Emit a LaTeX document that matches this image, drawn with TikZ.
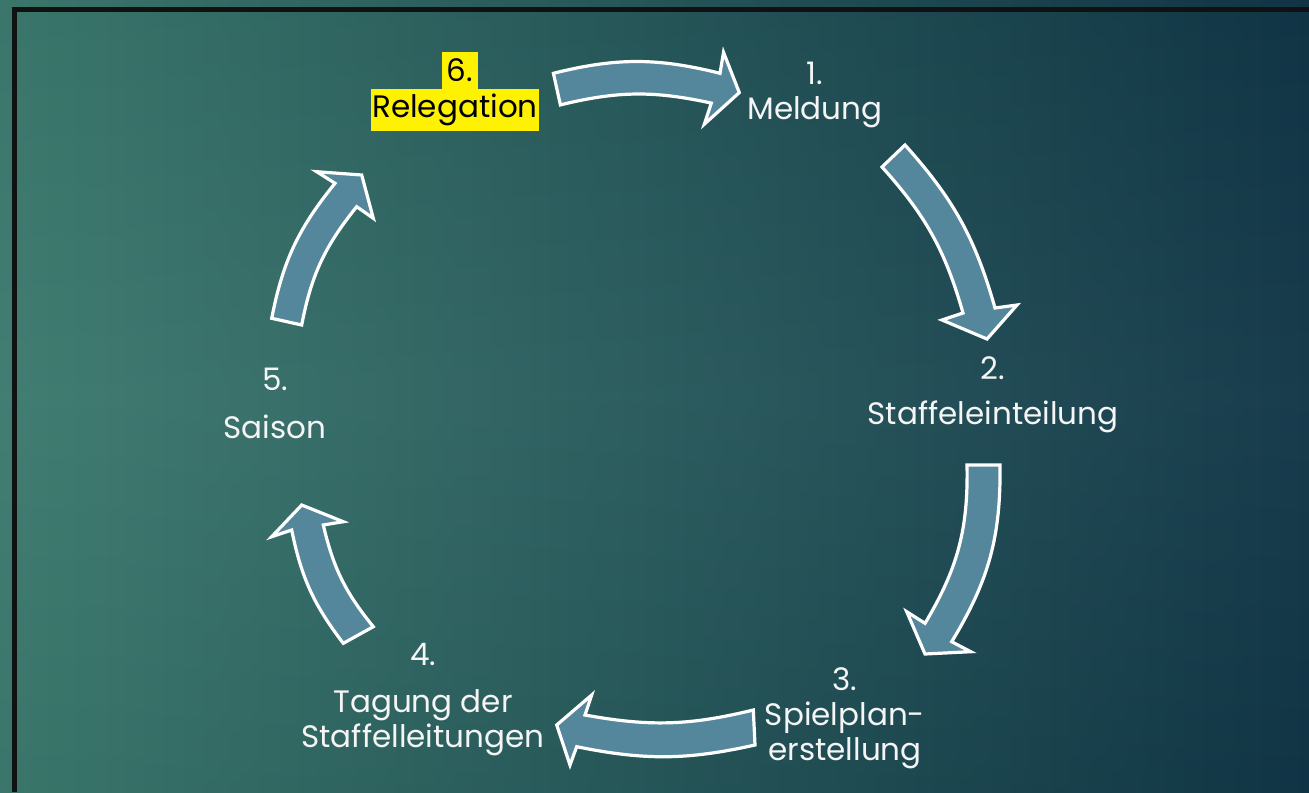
\documentclass[tikz,border=0pt]{standalone}
\usepackage{fontspec}
\setmainfont{Poppins}

\definecolor{bgl}{RGB}{60,122,110}
\definecolor{bgm}{RGB}{38,90,93}
\definecolor{bgr}{RGB}{17,54,71}
\definecolor{arrowfill}{RGB}{85,135,156}
\definecolor{frame}{RGB}{17,17,17}

\tikzset{
  cyc/.style={draw=white, line width=1.6pt, fill=arrowfill},
  lbl/.style={text=white!96!black, align=center, inner sep=0pt, font=\fontsize{15.5}{17.5}\selectfont},
  hl/.style={fill=yellow, text=black, inner sep=0pt, font=\fontsize{15.5}{17.5}\selectfont}
}

\begin{document}
\begin{tikzpicture}[x=0.5pt, y=-0.5pt]
\shade[left color=bgl, middle color=bgm, right color=bgr] (0,0) rectangle (1309,792);
\shade[top color=black, bottom color=black, middle color=white, opacity=0.03] (0,0) rectangle (1309,792);
\useasboundingbox (0,0) rectangle (1309,792);
\fill[frame] (12,7) rectangle (1309,12);
\fill[frame] (12,7) rectangle (17,792);

% arrow outlines, tail -> head -> tail
\coordinate (a1_0) at (553.4,73.3);
\coordinate (a1_1) at (720,73.3);
\coordinate (a1_2) at (723.5,52.3);
\coordinate (a1_3) at (739.3,92.6);
\coordinate (a1_4) at (704.3,124.2);
\coordinate (a1_5) at (711.3,103.1);
\coordinate (a1_6) at (560.4,104.9);

\coordinate (a2_0) at (905,145);
\coordinate (a2_1) at (995,308);
\coordinate (a2_2) at (1017,305);
\coordinate (a2_3) at (987,339);
\coordinate (a2_4) at (942,320);
\coordinate (a2_5) at (963,313);
\coordinate (a2_6) at (882,167);

\coordinate (a3_0) at (1000,465);
\coordinate (a3_1) at (951.7,641.7);
\coordinate (a3_2) at (970.7,651.7);
\coordinate (a3_3) at (925,654);
\coordinate (a3_4) at (906.7,611.7);
\coordinate (a3_5) at (925,623.3);
\coordinate (a3_6) at (967,465);

\coordinate (a4_0) at (755,745);
\coordinate (a4_1) at (576.7,746.7);
\coordinate (a4_2) at (570,765);
\coordinate (a4_3) at (556.7,725);
\coordinate (a4_4) at (591.7,695);
\coordinate (a4_5) at (585,715);
\coordinate (a4_6) at (753.3,710);

\coordinate (a5_0) at (343.3,643.3);
\coordinate (a5_1) at (291.7,530);
\coordinate (a5_2) at (271.7,536.7);
\coordinate (a5_3) at (301.7,505);
\coordinate (a5_4) at (343.3,521.7);
\coordinate (a5_5) at (323.3,525);
\coordinate (a5_6) at (373.3,626.7);

\coordinate (a6_0) at (271.7,318.3);
\coordinate (a6_1) at (335,183.3);
\coordinate (a6_2) at (316.7,171.7);
\coordinate (a6_3) at (361.7,175);
\coordinate (a6_4) at (373.3,218.3);
\coordinate (a6_5) at (356.7,206.7);
\coordinate (a6_6) at (301.7,325);

\draw[cyc] (a1_0) to[bend left=14] (a1_1) -- (a1_2) -- (a1_3) -- (a1_4) -- (a1_5) to[bend right=13] (a1_6) -- cycle;
\draw[cyc] (a2_0) to[bend left=13] (a2_1) -- (a2_2) -- (a2_3) -- (a2_4) -- (a2_5) to[bend right=13] (a2_6) -- cycle;
\draw[cyc] (a3_0) to[bend left=16] (a3_1) -- (a3_2) -- (a3_3) -- (a3_4) -- (a3_5) to[bend right=16] (a3_6) -- cycle;
\draw[cyc] (a4_0) to[bend left=12] (a4_1) -- (a4_2) -- (a4_3) -- (a4_4) -- (a4_5) to[bend right=12] (a4_6) -- cycle;
\draw[cyc] (a5_0) to[bend left=13] (a5_1) -- (a5_2) -- (a5_3) -- (a5_4) -- (a5_5) to[bend right=13] (a5_6) -- cycle;
\draw[cyc] (a6_0) to[bend left=14] (a6_1) -- (a6_2) -- (a6_3) -- (a6_4) -- (a6_5) to[bend right=14] (a6_6) -- cycle;

% step labels
\node[lbl] (s1) at (815,95) {1.\\Meldung};
\node[lbl] (s2) at (993,394.5) {2.\\[5pt]Staffeleinteilung};
\node[lbl] (s3) at (845,718) {3.\\Spielplan-\\erstellung};
\node[lbl] (s4) at (423,699.5) {4.\\[6pt]Tagung der\\Staffelleitungen};
\node[lbl] (s5) at (275,403) {5.\\[6.5pt]Saison};
\node[hl, minimum width=18pt, minimum height=18.5pt] (s6a) at (460,70.5) {6.};
\node[hl, minimum width=84pt, minimum height=21pt] (s6b) at (455,110) {Relegation};

\end{tikzpicture}
\end{document}
